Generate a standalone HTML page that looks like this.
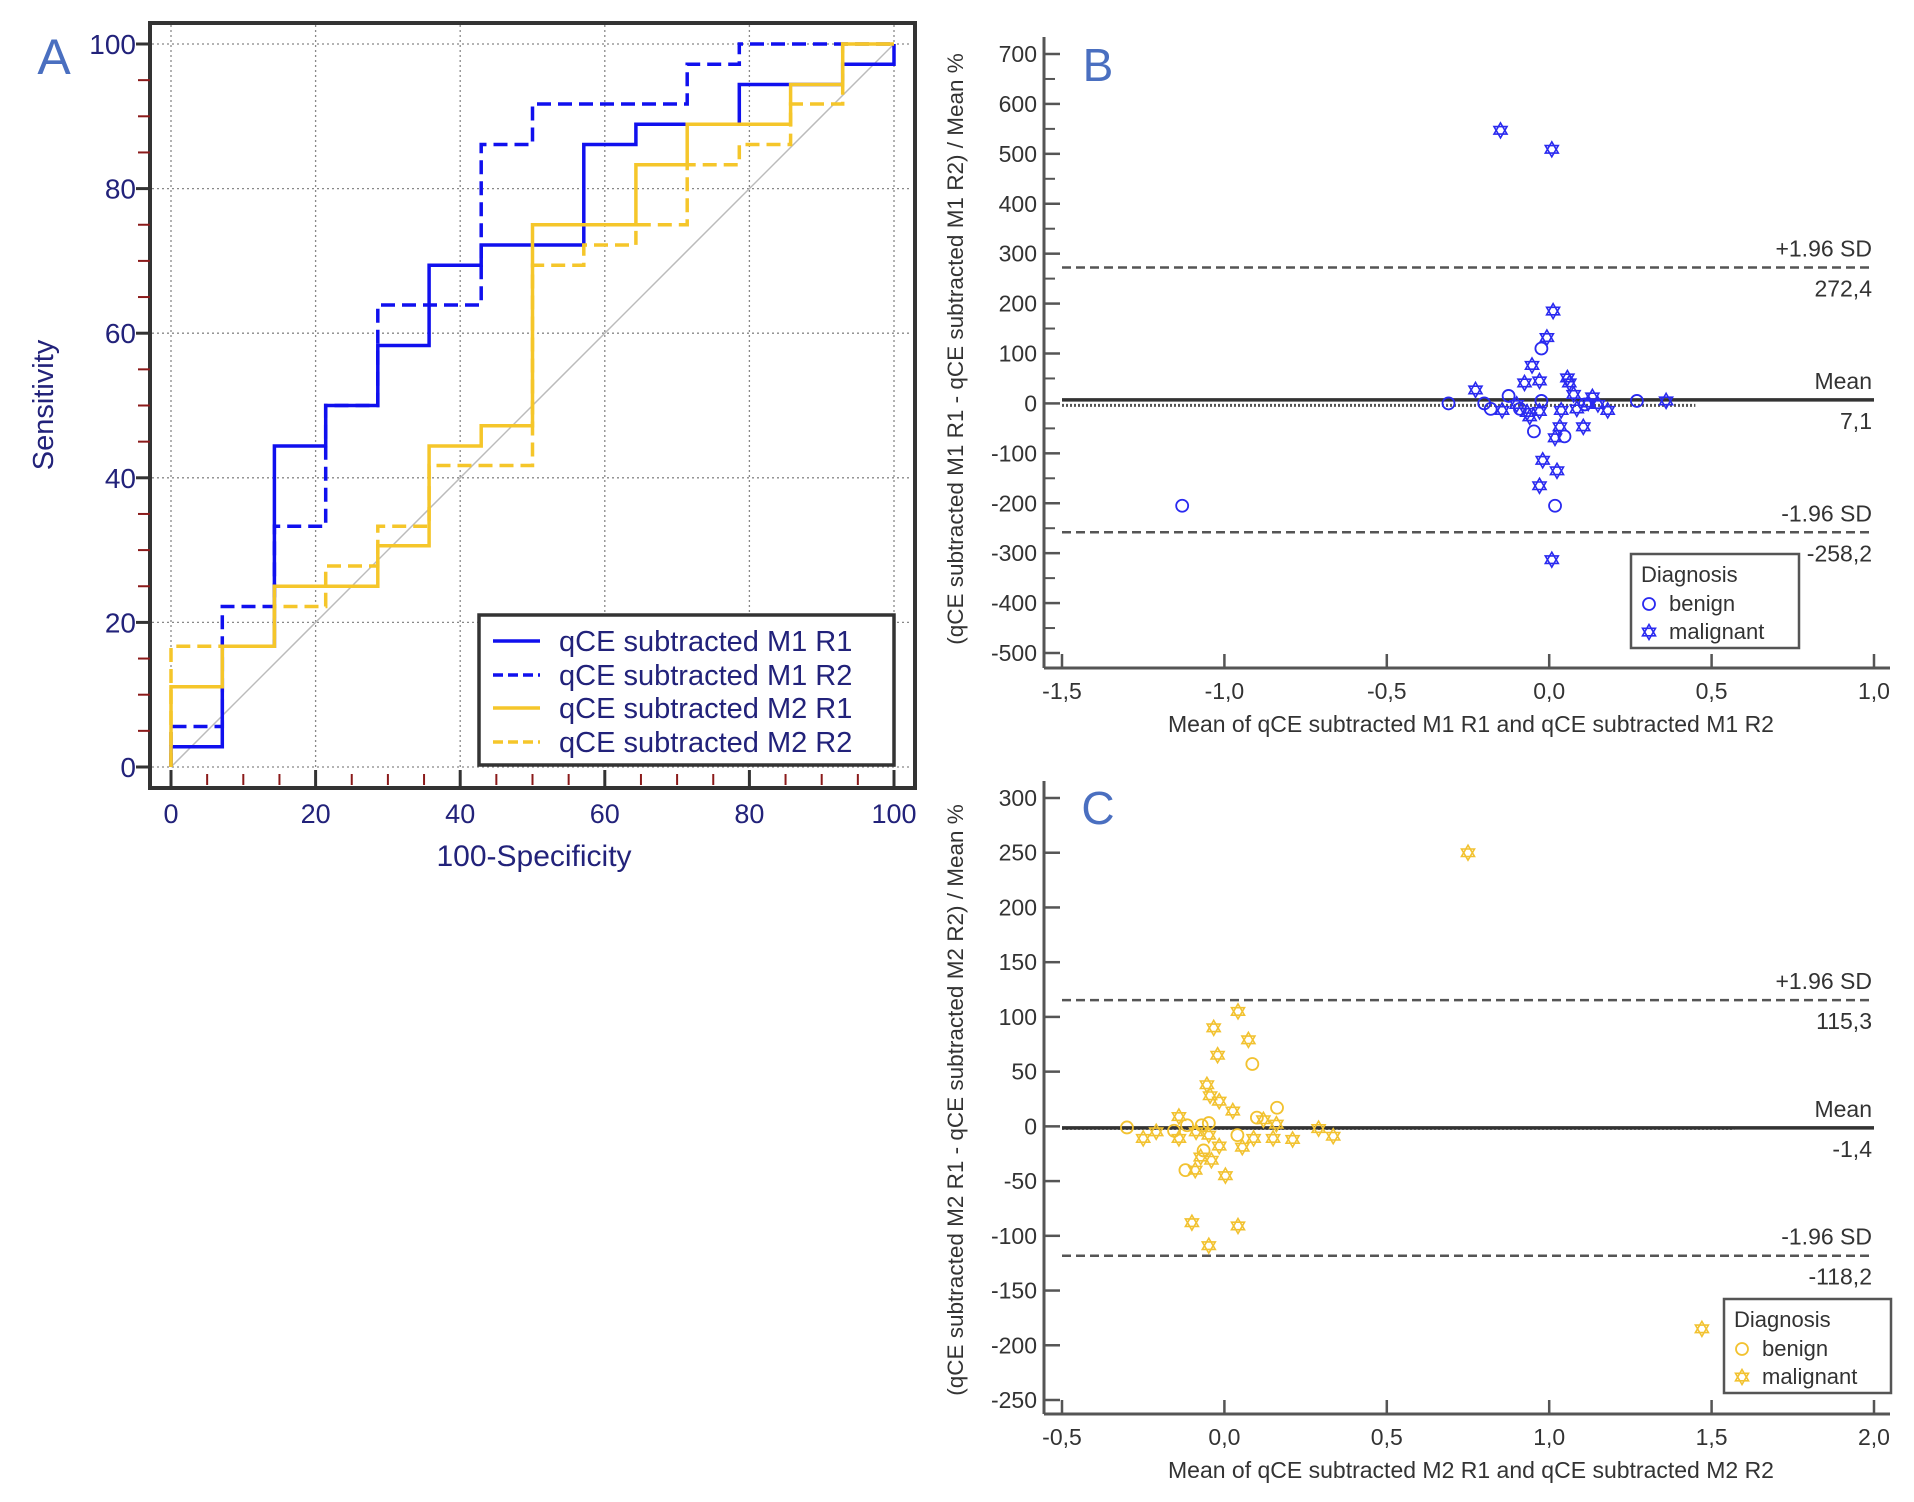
<!DOCTYPE html>
<html><head><meta charset="utf-8">
<style>
html,body{margin:0;padding:0;background:#fff;}
svg{display:block;font-family:"Liberation Sans",Arial,sans-serif;}
</style></head>
<body>
<svg id="root" width="1914" height="1502" viewBox="0 0 1914 1502" xmlns="http://www.w3.org/2000/svg">
<rect x="0" y="0" width="1914" height="1502" fill="#fff"/>
<g id="gA"></g>
<g id="gB"></g>
<g id="gC"></g>
</svg>
<script>
// ---- Panel A data (ROC curves) ----
const rocNames = ["qCE subtracted M1 R1","qCE subtracted M1 R2","qCE subtracted M2 R1","qCE subtracted M2 R2"];
const m1r1X = [0,0,7.1,7.1,14.3,14.3,21.4,21.4,28.6,28.6,35.7,35.7,42.9,42.9,57.1,57.1,64.3,64.3,78.6,78.6,92.9,92.9,100,100];
const m1r1Y = [0,2.8,2.8,16.7,16.7,44.4,44.4,50,50,58.3,58.3,69.4,69.4,72.2,72.2,86.1,86.1,88.9,88.9,94.4,94.4,97.2,97.2,100];
const m1r2X = [0,0,7.1,7.1,14.3,14.3,21.4,21.4,28.6,28.6,42.9,42.9,50,50,71.4,71.4,78.6,78.6,100];
const m1r2Y = [0,5.6,5.6,22.2,22.2,33.3,33.3,50,50,63.9,63.9,86.1,86.1,91.7,91.7,97.2,97.2,100,100];
const m2r1X = [0,0,7.1,7.1,14.3,14.3,28.6,28.6,35.7,35.7,42.9,42.9,50,50,64.3,64.3,71.4,71.4,85.7,85.7,92.9,92.9,100];
const m2r1Y = [0,11.1,11.1,16.7,16.7,25,25,30.6,30.6,44.4,44.4,47.2,47.2,75,75,83.3,83.3,88.9,88.9,94.4,94.4,100,100];
const m2r2X = [0,0,14.3,14.3,21.4,21.4,28.6,28.6,35.7,35.7,50,50,57.1,57.1,64.3,64.3,71.4,71.4,78.6,78.6,85.7,85.7,92.9,92.9,100];
const m2r2Y = [0,16.7,16.7,22.2,22.2,27.8,27.8,33.3,33.3,41.7,41.7,69.4,69.4,72.2,72.2,75,75,83.3,83.3,86.1,86.1,91.7,91.7,100,100];
const aTicks = [0,20,40,60,80,100];

// ---- Panel B data ----
const bBenignX = [-1.13,-0.024,0.018,-0.047,0.047,-0.31,-0.2,-0.18,-0.125,-0.024,0.27,-0.09,0.11];
const bBenignY = [-205,110,-205,-56,-66,0,0,-11,15,5,5,-11,-2];
const bMalX = [-0.15,0.008,0.012,-0.007,-0.053,-0.076,-0.03,-0.227,0.056,0.062,-0.145,-0.068,-0.03,-0.06,0.037,0.033,0.018,0.105,-0.02,0.024,-0.03,0.008,0.075,0.133,0.18,0.085,0.15,0.36,-0.1,0.12];
const bMalY = [547,509,185,132,76,41,45,27,51,41,-14,-18,-16,-27,-14,-47,-69,-47,-114,-135,-165,-313,18,13,-14,-11,-2,5,-2,1];
const bLines = [272.4,7.1,-258.2];
const bLineLabels = ["+1.96 SD","Mean","-1.96 SD"];
const bLineValues = ["272,4","7,1","-258,2"];
const bYTicks = [700,600,500,400,300,200,100,0,-100,-200,-300,-400,-500];
const bXTicks = [-1.5,-1.0,-0.5,0.0,0.5,1.0];

// ---- Panel C data ----
const cBenignX = [-0.3,-0.155,-0.12,-0.07,-0.048,-0.064,0.04,0.086,0.162,0.1,-0.115];
const cBenignY = [-1,-4,-40,1,3,-22,-8,57,17,8,1];
const cMalX = [0.75,1.47,0.042,-0.033,0.074,-0.021,-0.054,-0.044,-0.016,0.026,-0.14,-0.25,-0.21,-0.14,-0.087,-0.048,-0.016,0.055,0.09,0.15,0.21,0.29,0.335,-0.09,-0.04,0.003,-0.1,0.042,-0.048,0.12,0.16,-0.073];
const cMalY = [250,-185,105,90,79,65,38,28,23,14,9,-11,-5,-11,-5,-8,-18,-19,-11,-11,-12,-2,-9,-40,-31,-45,-88,-91,-109,6,2,-28];
const cLines = [115.3,-1.4,-118.2];
const cLineLabels = ["+1.96 SD","Mean","-1.96 SD"];
const cLineValues = ["115,3","-1,4","-118,2"];
const cYTicks = [300,250,200,150,100,50,0,-50,-100,-150,-200,-250];
const cXTicks = [-0.5,0.0,0.5,1.0,1.5,2.0];

const NS = "http://www.w3.org/2000/svg";
function mk(parent, tag, attrs, text){
  const e = document.createElementNS(NS, tag);
  for (const k in attrs) e.setAttribute(k, attrs[k]);
  if (text !== undefined) e.textContent = text;
  parent.appendChild(e);
  return e;
}
function fmt(v){ return v.toFixed(1).replace('.', ','); }

// ================= Panel A =================
(function(){
  const g = document.getElementById('gA');
  const x0=171, x1=894, y0=767, y1=44;
  const sx = v => x0 + (v/100)*(x1-x0);
  const sy = v => y0 - (v/100)*(y0-y1);
  const navy = "#22227a";
  aTicks.forEach(t=>{
    const gv = mk(g,'line',{x1:sx(t),x2:sx(t),y1:25,y2:785,stroke:'#888','stroke-width':1.3,'stroke-dasharray':'2 3'});
    
    
    const gh = mk(g,'line',{x1:152,x2:912,y1:sy(t),y2:sy(t),stroke:'#888','stroke-width':1.3,'stroke-dasharray':'2 3'});
    
    
  });
  const dg = mk(g,'line',{x1:sx(0),y1:sy(0),x2:sx(100),y2:sy(100),stroke:'#bbb','stroke-width':1.5});
  
  
  const series = [
    {x:m1r1X,y:m1r1Y,c:'#1010ee',d:null,n:'roc-m1-r1'},
    {x:m1r2X,y:m1r2Y,c:'#1010ee',d:'14 7',n:'roc-m1-r2'},
    {x:m2r1X,y:m2r1Y,c:'#f5c62a',d:null,n:'roc-m2-r1'},
    {x:m2r2X,y:m2r2Y,c:'#f5c62a',d:'14 7',n:'roc-m2-r2'}
  ];
  series.forEach(s=>{
    const pts = s.x.map((v,i)=>sx(v).toFixed(1)+','+sy(s.y[i]).toFixed(1)).join(' ');
    const a = {points:pts,fill:'none',stroke:s.c,'stroke-width':3.5};
    if (s.d) a['stroke-dasharray']=s.d;
    const p = mk(g,'polyline',a);
    
    
  });
  const fr = mk(g,'rect',{x:150,y:23,width:765,height:765,fill:'none',stroke:'#333','stroke-width':4});
  
  
  for (let t=5;t<100;t+=5){
    if (t%20===0) continue;
    const ty = mk(g,'line',{x1:138,x2:150,y1:sy(t),y2:sy(t),stroke:'#8b1a1a','stroke-width':2});
    
    
    const tx = mk(g,'line',{x1:sx(t),x2:sx(t),y1:774,y2:785,stroke:'#8b1a1a','stroke-width':2});
    
    
  }
  aTicks.forEach(t=>{
    const ty = mk(g,'line',{x1:136,x2:150,y1:sy(t),y2:sy(t),stroke:'#333','stroke-width':3});
    
    
    const tx = mk(g,'line',{x1:sx(t),x2:sx(t),y1:770,y2:788,stroke:'#333','stroke-width':3});
    
    
    const ly = mk(g,'text',{x:136,y:sy(t)+10,'text-anchor':'end','font-size':28,fill:navy},String(t));
    
    
    const lx = mk(g,'text',{x:sx(t),y:823,'text-anchor':'middle','font-size':27,fill:navy},String(t));
    
    
  });
  const xt = mk(g,'text',{x:534,y:866,'text-anchor':'middle','font-size':30,fill:navy},'100-Specificity');
  
  
  const yt = mk(g,'text',{x:0,y:0,'text-anchor':'middle','font-size':29,fill:navy,transform:'translate(53,405) rotate(-90)'},'Sensitivity');
  
  
  const lab = mk(g,'text',{x:54,y:74,'text-anchor':'middle','font-size':50,fill:'#4a6fc0'},'A');
  
  
  const lb = mk(g,'rect',{x:479,y:615,width:415,height:150,fill:'#fff',stroke:'#333','stroke-width':3.5});
  
  
  const ly0=[641,675,708,742];
  series.forEach((s,i)=>{
    const a = {x1:493,x2:540,y1:ly0[i],y2:ly0[i],stroke:s.c,'stroke-width':3.5};
    if (s.d) a['stroke-dasharray']='10 5';
    const l = mk(g,'line',a);
    
    
    const t = mk(g,'text',{x:559,y:ly0[i]+10,'font-size':29,fill:navy},rocNames[i]);
    
    
  });
})();

function star(g, cx, cy, r, color){
  const p1 = [], p2 = [];
  for (let k=0;k<3;k++){
    const a1 = -Math.PI/2 + k*2*Math.PI/3, a2 = Math.PI/2 + k*2*Math.PI/3;
    p1.push((cx+r*Math.cos(a1)).toFixed(1)+','+(cy+r*Math.sin(a1)).toFixed(1));
    p2.push((cx+r*Math.cos(a2)).toFixed(1)+','+(cy+r*Math.sin(a2)).toFixed(1));
  }
  const gg = mk(g,'g',{});
  mk(gg,'polygon',{points:p1.join(' '),fill:'none',stroke:color,'stroke-width':1.6});
  mk(gg,'polygon',{points:p2.join(' '),fill:'none',stroke:color,'stroke-width':1.6});
  return gg;
}
function bland(cfg){
  const g = document.getElementById(cfg.id);
  const sx = v => cfg.xp0 + (v-cfg.xmin)/(cfg.xmax-cfg.xmin)*(cfg.xp1-cfg.xp0);
  const sy = v => cfg.yp0 + (cfg.ytop-v)/(cfg.ytop-cfg.ybot)*(cfg.yp1-cfg.yp0);
  const ax = '#555', tc = '#333', fs = 23;
  const yl = mk(g,'line',{x1:1044,x2:1044,y1:cfg.axTop,y2:cfg.base,stroke:ax,'stroke-width':3});
  
  
  const xl = mk(g,'line',{x1:1044,x2:1890,y1:cfg.base,y2:cfg.base,stroke:ax,'stroke-width':3});
  
  
  cfg.yTicks.forEach(t=>{
    const tk = mk(g,'line',{x1:1044,x2:1060,y1:sy(t),y2:sy(t),stroke:ax,'stroke-width':2.5});
    
    
    const lt = mk(g,'text',{x:1037,y:sy(t)+8,'text-anchor':'end','font-size':fs,fill:tc},String(t));
    
    
  });
  if (cfg.minor){
    for (let i=0;i<cfg.yTicks.length-1;i++){
      const m = (cfg.yTicks[i]+cfg.yTicks[i+1])/2;
      const tk = mk(g,'line',{x1:1044,x2:1055,y1:sy(m),y2:sy(m),stroke:ax,'stroke-width':2});
      
      
    }
  }
  cfg.xTicks.forEach(t=>{
    const tk = mk(g,'line',{x1:sx(t),x2:sx(t),y1:cfg.base-14,y2:cfg.base,stroke:ax,'stroke-width':2.5});
    
    
    const lt = mk(g,'text',{x:sx(t),y:cfg.base+31,'text-anchor':'middle','font-size':fs,fill:tc},fmt(t));
    
    
  });
  const zl = mk(g,'line',{x1:sx(cfg.xmin),x2:sx(cfg.zeroEnd),y1:sy(0)+2,y2:sy(0)+2,stroke:'#555','stroke-width':3,'stroke-dasharray':'2 2'});
  
  
  cfg.lines.forEach((v,i)=>{
    const a = {x1:sx(cfg.xmin),x2:1874,y1:sy(v),y2:sy(v),stroke:i===1?'#333':'#555','stroke-width':i===1?3.5:2.5};
    if (i!==1) a['stroke-dasharray']='9 5';
    const l = mk(g,'line',a);
    
    
    const t1 = mk(g,'text',{x:1872,y:sy(v)-11,'text-anchor':'end','font-size':fs,fill:tc},cfg.lineLabels[i]);
    
    
    const t2 = mk(g,'text',{x:1872,y:sy(v)+29,'text-anchor':'end','font-size':fs,fill:tc},cfg.lineValues[i]);
    
    
  });
  cfg.benX.forEach((v,i)=>{
    const c = mk(g,'circle',{cx:sx(v),cy:sy(cfg.benY[i]),r:6,fill:'none',stroke:cfg.color,'stroke-width':1.8});
    
    
  });
  cfg.malX.forEach((v,i)=>{
    const s = star(g, sx(v), sy(cfg.malY[i]), 7.5, cfg.color);
    
    
  });
  const xt = mk(g,'text',{x:1471,y:cfg.base+64,'text-anchor':'middle','font-size':fs,fill:tc},cfg.xTitle);
  
  
  const yt = mk(g,'text',{x:0,y:0,'text-anchor':'middle','font-size':22.5,fill:tc,transform:'translate(963,'+cfg.yTitleY+') rotate(-90)'},cfg.yTitle);
  
  
  const pl = mk(g,'text',{x:1098,y:cfg.labelY,'text-anchor':'middle','font-size':46,fill:'#4a6fc0'},cfg.label);
  
  
  const L = cfg.leg;
  const lb = mk(g,'rect',{x:L.x,y:L.y,width:L.w,height:L.h,fill:'#fff',stroke:'#555','stroke-width':2.5});
  
  
  const lt = mk(g,'text',{x:L.x+10,y:L.y+28,'font-size':22,fill:tc},'Diagnosis');
  
  
  const lc = mk(g,'circle',{cx:L.x+18,cy:L.y+50,r:6,fill:'none',stroke:cfg.color,'stroke-width':1.8});
  
  
  const l1 = mk(g,'text',{x:L.x+38,y:L.y+57,'font-size':22,fill:tc},'benign');
  
  
  const ls = star(g, L.x+18, L.y+78, 7.5, cfg.color);
  
  
  const l2 = mk(g,'text',{x:L.x+38,y:L.y+85,'font-size':22,fill:tc},'malignant');
  
  
}
bland({id:'gB',xmin:-1.5,xmax:1.0,xp0:1062,xp1:1874,ytop:700,ybot:-500,yp0:54,yp1:653,base:668,axTop:37,minor:true,
  yTicks:bYTicks,xTicks:bXTicks,lines:bLines,lineLabels:bLineLabels,lineValues:bLineValues,zeroEnd:0.45,
  benX:bBenignX,benY:bBenignY,malX:bMalX,malY:bMalY,color:'#2a2af0',
  xTitle:'Mean of qCE subtracted M1 R1 and qCE subtracted M1 R2',
  yTitle:'(qCE subtracted M1 R1 - qCE subtracted M1 R2) / Mean %',yTitleY:349,label:'B',labelY:81,
  leg:{x:1631,y:554,w:168,h:94}});
bland({id:'gC',xmin:-0.5,xmax:2.0,xp0:1062,xp1:1874,ytop:300,ybot:-250,yp0:798,yp1:1400,base:1414,axTop:781,minor:false,
  yTicks:cYTicks,xTicks:cXTicks,lines:cLines,lineLabels:cLineLabels,lineValues:cLineValues,zeroEnd:1.57,
  benX:cBenignX,benY:cBenignY,malX:cMalX,malY:cMalY,color:'#f2c230',
  xTitle:'Mean of qCE subtracted M2 R1 and qCE subtracted M2 R2',
  yTitle:'(qCE subtracted M2 R1 - qCE subtracted M2 R2) / Mean %',yTitleY:1100,label:'C',labelY:824,
  leg:{x:1724,y:1299,w:167,h:94}});
</script>
</body></html>
